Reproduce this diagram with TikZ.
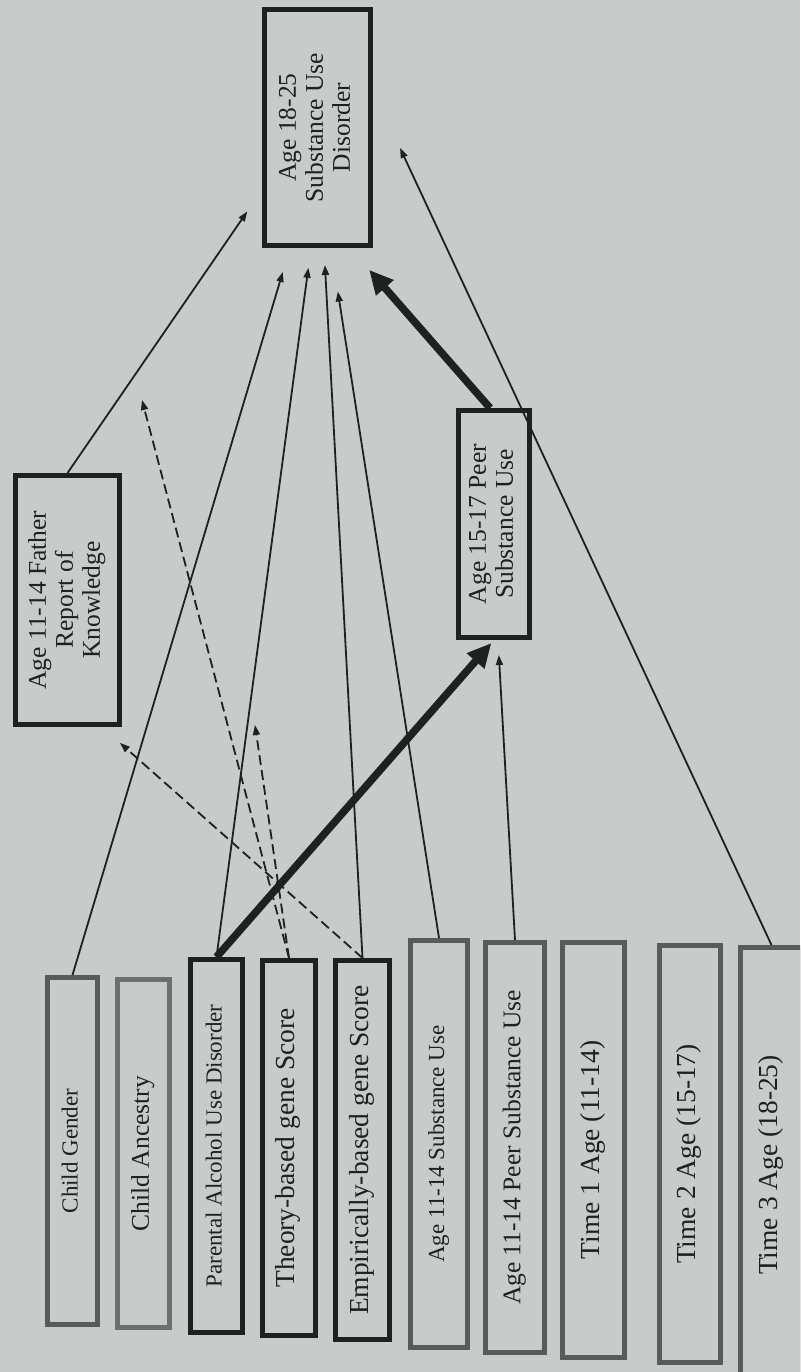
\documentclass[tikz,border=0pt]{standalone}
\usepackage{fontspec}
\setmainfont{Liberation Serif}
\usetikzlibrary{arrows.meta}

\definecolor{paper}{RGB}{199,203,202}
\definecolor{ink}{RGB}{30,32,33}
\definecolor{greyline}{RGB}{88,90,92}
\definecolor{lightline}{RGB}{108,110,111}

\newcommand{\vlabel}[1]{\rotatebox{90}{\begin{tabular}{@{}c@{}}#1\end{tabular}}}

\tikzset{
	varbox/.style={draw=ink, line width=5pt, fill=paper, inner sep=0pt, text=ink},
	covbox/.style={varbox, draw=greyline},
	txtS/.style={font=\fontsize{23}{25}\selectfont},
	txtM/.style={font=\fontsize{25.5}{27}\selectfont},
	txtL/.style={font=\fontsize{27.5}{29}\selectfont},
	effect/.style={draw=ink, line width=1.8pt, -{Triangle[length=10pt,width=7pt]}},
	bigeffect/.style={draw=ink, line width=7.5pt, -{Triangle[length=24pt,width=22pt]}},
	modeffect/.style={effect, dash pattern=on 10pt off 5pt},
}

\begin{document}
\begin{tikzpicture}[x=1pt, y=-1pt]
	\useasboundingbox (0,0) rectangle (800,1372);
	\fill[paper] (0,0) rectangle (800,1372);
	\clip (0,0) rectangle (800,1372);

	% outcome and mediators
	\node[varbox, txtM, minimum width=106pt, minimum height=236pt] (sud) at (317.5,127.5) {\vlabel{Age 18-25\\Substance Use\\Disorder}};
	\node[varbox, txtM, minimum width=104pt, minimum height=249pt] (father) at (67.5,600) {\vlabel{Age 11-14 Father\\Report of\\Knowledge}};
	\node[varbox, txtM, minimum width=71pt, minimum height=227pt] (peer1517) at (494,524) {\vlabel{Age 15-17 Peer\\Substance Use}};

	% predictors and covariates
	\node[covbox, txtS, minimum width=50pt, minimum height=347pt] (gender) at (72.5,1151) {\vlabel{Child Gender}};
	\node[covbox, txtM, draw=lightline, minimum width=52pt, minimum height=348pt] (ancestry) at (143.5,1153.5) {\vlabel{Child Ancestry}};
	\node[varbox, txtS, minimum width=52pt, minimum height=373pt] (parental) at (216.5,1146) {\vlabel{Parental Alcohol Use Disorder}};
	\node[varbox, txtL, minimum width=53pt, minimum height=375pt] (theory) at (289,1148) {\vlabel{Theory-based gene Score}};
	\node[varbox, txtL, minimum width=54pt, minimum height=379pt] (empirical) at (362.5,1150) {\vlabel{Empirically-based gene Score}};
	\node[covbox, txtS, minimum width=57pt, minimum height=407pt] (subuse) at (439,1144) {\vlabel{Age 11-14 Substance Use}};
	\node[covbox, txtM, minimum width=59pt, minimum height=410pt] (peeruse) at (515,1147.5) {\vlabel{Age 11-14 Peer Substance Use}};
	\node[covbox, txtL, minimum width=62pt, minimum height=415pt] (time1) at (593.5,1150) {\vlabel{Time 1 Age (11-14)}};
	\node[covbox, txtL, minimum width=61pt, minimum height=417pt] (time2) at (690,1154) {\vlabel{Time 2 Age (15-17)}};
	\node[covbox, txtL, minimum width=62pt, minimum height=435pt] (time3) at (771.5,1165) {\vlabel{Time 3 Age (18-25)}};

	% paths to age 18-25 disorder
	\draw[effect, shorten >=25pt] (gender.north) -- ([xshift=-27.5pt]sud.south);
	\draw[effect, shorten >=20pt] (parental.north) -- ([xshift=-6.5pt]sud.south);
	\draw[effect, shorten >=17pt] (empirical.north) -- ([xshift=6.5pt]sud.south);
	\draw[effect, shorten >=44pt] (subuse.north) -- ([xshift=13.5pt]sud.south);
	\draw[bigeffect, shorten >=29pt] ([xshift=-4pt]peer1517.north) -- ([xshift=32.5pt]sud.south);
	\draw[effect, shorten >=26pt] (father.north) -- ([yshift=-62.5pt]sud.west);
	\draw[effect, shorten >=64pt] (time3.north) -- ([yshift=37.5pt]sud.east);

	% paths to the mediators
	\draw[bigeffect, shorten >=4pt] (parental.north) -- (peer1517.south);
	\draw[effect, shorten >=15pt] (peeruse.north) -- ([xshift=4pt]peer1517.south);
	\draw[modeffect, shorten >=24pt] (empirical.north) -- ([xshift=34.5pt]father.south);

	% gene score moderation
	\coordinate (fathermod) at (142,400);
	\coordinate (parentmod) at (255,725);
	\draw[modeffect] (theory.north) -- (fathermod);
	\draw[modeffect] (theory.north) -- (parentmod);
\end{tikzpicture}
\end{document}
